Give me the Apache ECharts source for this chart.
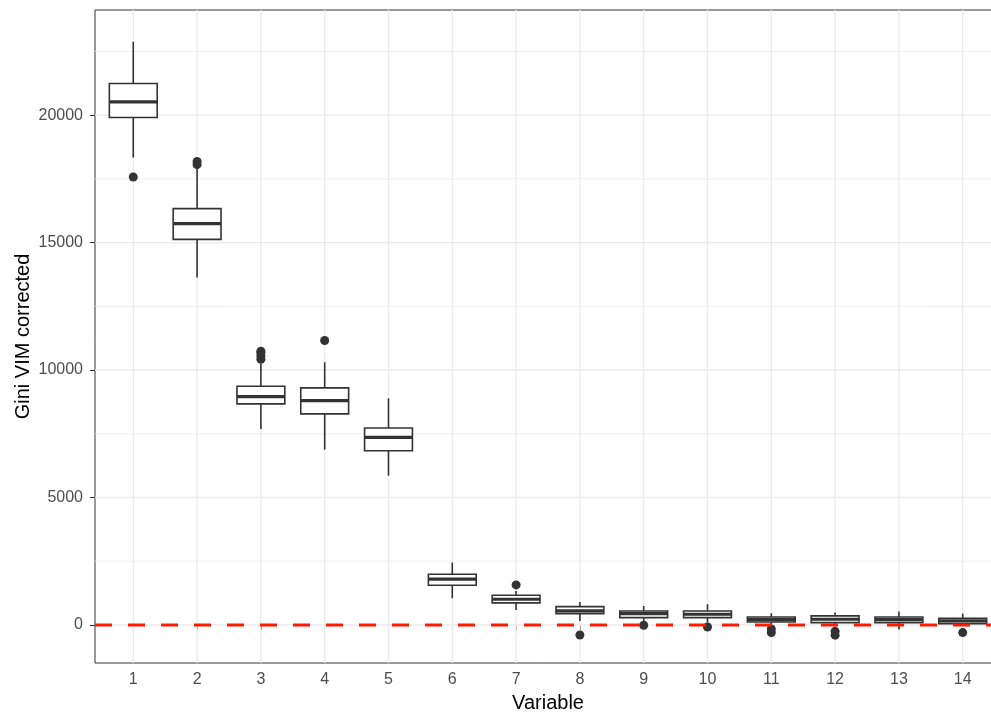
<!DOCTYPE html>
<html><head><meta charset="utf-8">
<script src="https://cdn.jsdelivr.net/npm/echarts@6/dist/echarts.min.js"></script>
<style>html,body{margin:0;padding:0;background:#fff;overflow:hidden}#c{width:991px;height:713px}</style>
</head><body><div id="c"></div>
<script>
// ---- data ----
const categories = [1,2,3,4,5,6,7,8,9,10,11,12,13,14];
const whiskerLow  = [18338, 13635, 7689, 6876, 5855, 1048, 589, 157, 100,  92,  20,  27, -170, -39];
const q1          = [19909, 15128, 8672, 8279, 6837, 1559, 864, 444, 287, 287, 118,  92,   92,  52];
const median      = [20523, 15744, 8959, 8802, 7361, 1795, 1009, 550, 444, 419, 210, 223,  210, 157];
const q3          = [21245, 16334, 9364, 9301, 7728, 1991, 1166, 720, 550, 550, 314, 354,  314, 263];
const whiskerHigh = [22880, 17950, 10244, 10307, 8892, 2449, 1336, 904, 747, 813, 459, 485, 524, 446];
const outlierCat  = [1,     2,     2,     3,     3,     3,     3,     4,     7,    8,    9,   10,  11,   11,   12,   12,   14];
const outlierVal  = [17576, 18060, 18180, 10420, 10550, 10680, 10740, 11159, 1572, -393, -12, -79, -160, -300, -250, -400, -301];
const yTicks = [0, 5000, 10000, 15000, 20000];
const yMinorTicks = [2500, 7500, 12500, 17500, 22500];
const refLine = [0];
const xRange = [0.4, 14.6];
const yRange = [-1493, 24126];

// ---- chart ----
const FONT = 'Liberation Sans';
const chart = echarts.init(document.getElementById('c'), null, {renderer: 'canvas', width: 991, height: 713});

const boxData = categories.map((c, i) => [c, whiskerLow[i], q1[i], median[i], q3[i], whiskerHigh[i]]);
const outlierData = outlierCat.map((c, i) => [c, outlierVal[i]]);
const hLines = yTicks.map(v => [xRange[0], v, 1]).concat(yMinorTicks.map(v => [xRange[0], v, 0]));
const vLines = categories.map(c => [c, yRange[0]]);

function hLineRender(params, api) {
  const y = api.value(1);
  const major = api.value(2) === 1;
  const p1 = api.coord([xRange[0], y]);
  const p2 = api.coord([xRange[1], y]);
  return {type: 'line', shape: {x1: p1[0], y1: p1[1], x2: p2[0], y2: p2[1]},
    style: {stroke: '#ebebeb', lineWidth: major ? 1.4 : 0.8}};
}
function vLineRender(params, api) {
  const x = api.value(0);
  const p1 = api.coord([x, yRange[0]]);
  const p2 = api.coord([x, yRange[1]]);
  return {type: 'line', shape: {x1: p1[0], y1: p1[1], x2: p2[0], y2: p2[1]},
    style: {stroke: '#ebebeb', lineWidth: 1.4}};
}
function boxRender(params, api) {
  const x = api.value(0);
  const lo = api.coord([x, api.value(1)]);
  const b1 = api.coord([x, api.value(2)]);
  const md = api.coord([x, api.value(3)]);
  const b3 = api.coord([x, api.value(4)]);
  const hi = api.coord([x, api.value(5)]);
  const w = api.size([1, 0])[0] * 0.75;
  const cx = lo[0];
  const stroke = '#333333';
  return {type: 'group', children: [
    {type: 'line', shape: {x1: cx, y1: hi[1], x2: cx, y2: b3[1]}, style: {stroke, lineWidth: 1.6}},
    {type: 'line', shape: {x1: cx, y1: b1[1], x2: cx, y2: lo[1]}, style: {stroke, lineWidth: 1.6}},
    {type: 'rect', shape: {x: cx - w / 2, y: b3[1], width: w, height: b1[1] - b3[1]},
      style: {fill: '#ffffff', stroke, lineWidth: 1.6}},
    {type: 'line', shape: {x1: cx - w / 2, y1: md[1], x2: cx + w / 2, y2: md[1]}, style: {stroke, lineWidth: 3.2}}
  ]};
}
function refRender(params, api) {
  const y = api.value(1);
  const p1 = api.coord([xRange[0], y]);
  const p2 = api.coord([xRange[1], y]);
  return {type: 'line', shape: {x1: p1[0], y1: p1[1], x2: p2[0], y2: p2[1]},
    style: {stroke: '#ff1a00', lineWidth: 3, lineDash: [17, 16]}};
}

const option = {
  animation: false,
  backgroundColor: '#ffffff',
  grid: {left: 95, top: 10, width: 906, height: 653, show: true, borderColor: '#333333', borderWidth: 1, backgroundColor: '#ffffff', outerBoundsMode: 'none', containLabel: false},
  xAxis: {
    type: 'value', min: xRange[0], max: xRange[1],
    name: 'Variable', nameLocation: 'middle', nameGap: 30, nameMoveOverlap: false,
    nameTextStyle: {fontSize: 20, color: '#000', fontFamily: FONT},
    axisLine: {show: false}, splitLine: {show: false},
    axisTick: {show: true, customValues: categories, length: 5, lineStyle: {color: '#333333'}},
    axisLabel: {customValues: categories, color: '#4d4d4d', fontSize: 16, margin: 9, fontFamily: FONT, formatter: v => String(v)}
  },
  yAxis: {
    type: 'value', min: yRange[0], max: yRange[1],
    name: 'Gini VIM corrected', nameLocation: 'middle', nameRotate: 90, nameGap: 62, nameMoveOverlap: false,
    nameTextStyle: {fontSize: 20, color: '#000', fontFamily: FONT},
    axisLine: {show: false}, splitLine: {show: false},
    axisTick: {show: true, customValues: yTicks, length: 5, lineStyle: {color: '#333333'}},
    axisLabel: {customValues: yTicks, color: '#4d4d4d', fontSize: 16, margin: 12, fontFamily: FONT, formatter: v => String(v)}
  },
  series: [
    {type: 'custom', z: 1, silent: true, data: hLines, renderItem: hLineRender, clip: true},
    {type: 'custom', z: 1, silent: true, data: vLines, renderItem: vLineRender, clip: true},
    {type: 'custom', z: 3, data: boxData, renderItem: boxRender},
    {type: 'scatter', z: 4, data: outlierData, symbol: 'circle', symbolSize: 9, itemStyle: {color: '#333333', opacity: 1}},
    {type: 'custom', z: 5, silent: true, data: refLine.map(v => [xRange[0], v]), renderItem: refRender, clip: true}
  ]
};
chart.setOption(option);
</script>
</body></html>
